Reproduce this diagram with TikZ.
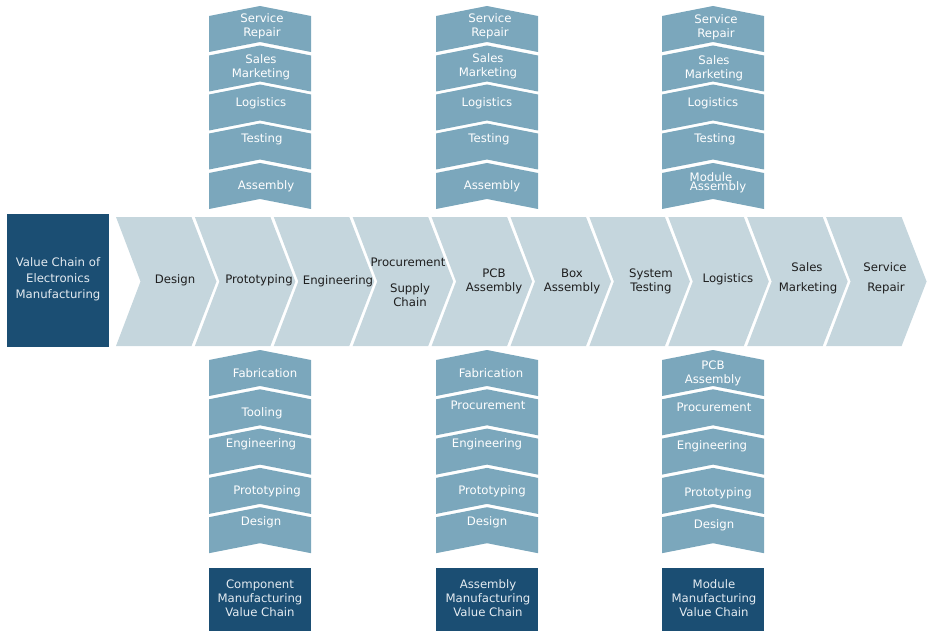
\documentclass[tikz,border=0pt]{standalone}
\usepackage{fontspec}
\setmainfont{DejaVu Sans}
\definecolor{darkblue}{HTML}{1B4E73}
\definecolor{stackblue}{HTML}{7BA7BC}
\definecolor{lightblue}{HTML}{C5D6DD}
\definecolor{maintext}{HTML}{1E1E1E}
\definecolor{boxtext}{HTML}{E4EBF1}
\begin{document}
\begin{tikzpicture}[x=1pt,y=-1pt,
  txt/.style={inner sep=0pt,font=\fontsize{11.7}{14}\selectfont,align=center},
  maintxt/.style={txt,text=maintext},
  stacktxt/.style={txt,text=white},
  boxtxt/.style={txt,text=boxtext},
  mainchev/.style={fill=lightblue,draw=none},
  stackchev/.style={fill=stackblue,draw=none},
  darkbox/.style={fill=darkblue,draw=none}]
\useasboundingbox (0,0) rectangle (931,631);
% main box
\path[darkbox] (7,214) rectangle (109,347);
\node[boxtxt,font=\fontsize{11.7}{16}\selectfont] (vc) at (58,279) {Value Chain of\\Electronics\\Manufacturing};
% main chevrons
\foreach \i in {0,...,9}{
  \pgfmathsetmacro{\L}{116+78.9*\i}
  \path[mainchev] (\L,217) -- (\L+75.5,217) -- (\L+100.5,281.5) -- (\L+75.5,346) -- (\L,346) -- (\L+24.5,281.5) -- cycle;
}
\node[maintxt] (m1) at (175,280) {Design};
\node[maintxt] (m2) at (259,280) {Prototyping};
\node[maintxt] (m3) at (338,281) {Engineering};
\node[maintxt] (m4a) at (408,262) {Procurement};
\node[maintxt] (m4b) at (410,295) {Supply\\Chain};
\node[maintxt] (m5) at (494,281) {PCB\\Assembly};
\node[maintxt] (m6) at (572,281) {Box\\Assembly};
\node[maintxt] (m7) at (651,281) {System\\Testing};
\node[maintxt] (m8) at (728,279) {Logistics};
\node[maintxt] (m9a) at (807,267) {Sales};
\node[maintxt] (m9b) at (808,288) {Marketing};
\node[maintxt] (m10a) at (885,267) {Service};
\node[maintxt] (m10b) at (886,288) {Repair};
% stacks
\foreach \X in {209,436,662}{
  \foreach \Y in {16,55.5,94.5,133.5,173,360,399.3,438.6,477.9,517.2}{
    \path[stackchev] (\X,\Y) -- (\X+51,\Y-10) -- (\X+102,\Y) -- (\X+102,\Y+36) -- (\X+51,\Y+26) -- (\X,\Y+36) -- cycle;
  }
  \path[darkbox] (\X,568) rectangle (\X+102,631);
}
% top stack 1
\node[stacktxt] (a1) at (262,26) {Service\\Repair};
\node[stacktxt] (a2) at (261,67) {Sales\\Marketing};
\node[stacktxt] (a3) at (261,103) {Logistics};
\node[stacktxt] (a4) at (262,139) {Testing};
\node[stacktxt] (a5) at (266,186) {Assembly};
% top stack 2
\node[stacktxt] (b1) at (490,26) {Service\\Repair};
\node[stacktxt] (b2) at (488,66) {Sales\\Marketing};
\node[stacktxt] (b3) at (487,103) {Logistics};
\node[stacktxt] (b4) at (489,139) {Testing};
\node[stacktxt] (b5) at (492,186) {Assembly};
% top stack 3
\node[stacktxt] (c1) at (716,27) {Service\\Repair};
\node[stacktxt] (c2) at (714,68) {Sales\\Marketing};
\node[stacktxt] (c3) at (713,103) {Logistics};
\node[stacktxt] (c4) at (715,139) {Testing};
\node[stacktxt] (c5a) at (711,177) {Module};
\node[stacktxt] (c5b) at (718,187) {Assembly};
% bottom stack 1
\node[stacktxt] (d1) at (265,373) {Fabrication};
\node[stacktxt] (d2) at (262,413) {Tooling};
\node[stacktxt] (d3) at (261,444) {Engineering};
\node[stacktxt] (d4) at (267,491) {Prototyping};
\node[stacktxt] (d5) at (261,522) {Design};
% bottom stack 2
\node[stacktxt] (e1) at (491,373) {Fabrication};
\node[stacktxt] (e2) at (488,405) {Procurement};
\node[stacktxt] (e3) at (487,444) {Engineering};
\node[stacktxt] (e4) at (492,491) {Prototyping};
\node[stacktxt] (e5) at (487,522) {Design};
% bottom stack 3
\node[stacktxt] (f1) at (713,373) {PCB\\Assembly};
\node[stacktxt] (f2) at (714,407) {Procurement};
\node[stacktxt] (f3) at (712,446) {Engineering};
\node[stacktxt] (f4) at (718,493) {Prototyping};
\node[stacktxt] (f5) at (714,525) {Design};
% bottom boxes
\node[boxtxt] (g1) at (260,598) {Component\\Manufacturing\\Value Chain};
\node[boxtxt] (g2) at (488,598) {Assembly\\Manufacturing\\Value Chain};
\node[boxtxt] (g3) at (714,598) {Module\\Manufacturing\\Value Chain};
\end{tikzpicture}
\end{document}
